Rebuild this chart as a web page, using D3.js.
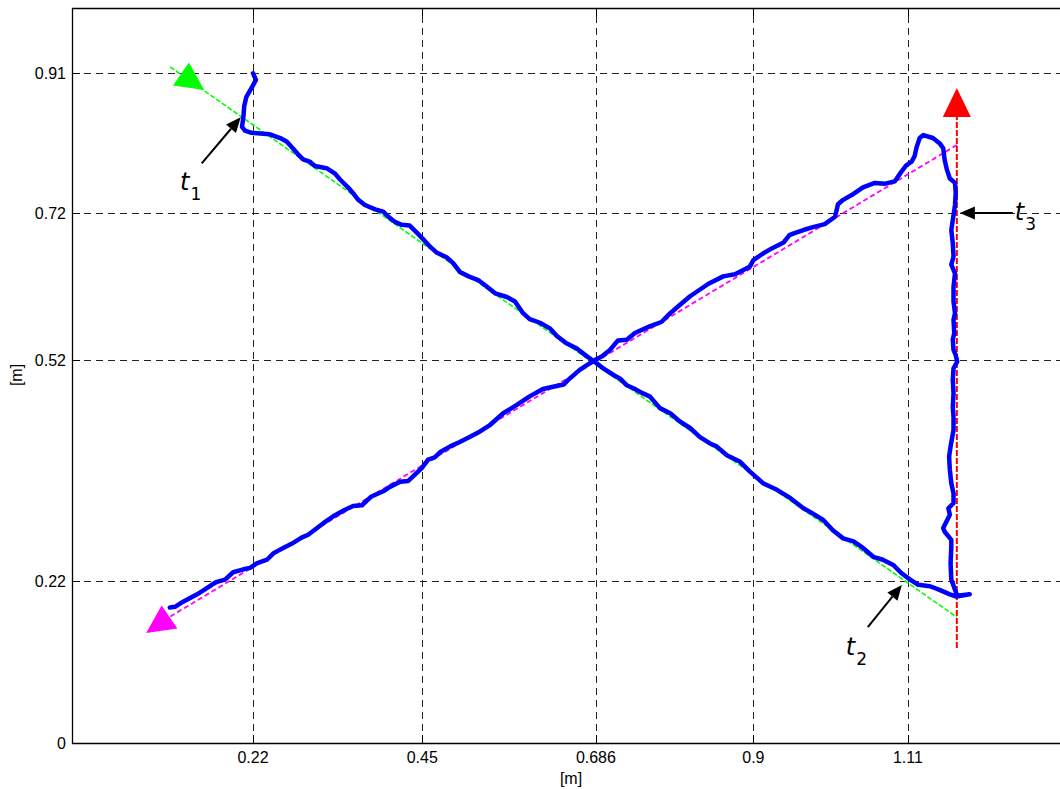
<!DOCTYPE html>
<html>
<head>
<meta charset="utf-8">
<script src="https://cdn.jsdelivr.net/npm/d3@7"></script>
<style>
  body { margin: 0; background: #fff; }
  svg { display: block; font-family: "Liberation Sans", Arial, sans-serif; }
</style>
</head>
<body>
<svg id="chart" width="1060" height="789"></svg>
<script>
// tick values
var xTicks = [0.22, 0.45, 0.686, 0.9, 1.11];
var xTickLabels = ["0.22", "0.45", "0.686", "0.9", "1.11"];
var yTicks = [0, 0.22, 0.52, 0.72, 0.91];
var yTickLabels = ["0", "0.22", "0.52", "0.72", "0.91"];

// reference path segments [x, y]
var greenRef = [[0.1075, 0.9185], [1.1765, 0.171]];
var redRef = [[1.1765, 0.129], [1.1765, 0.8505]];
var magentaRef = [[1.1765, 0.8125], [0.1065, 0.1712]];

// arrow heads: [base centre, tip]
var greenHead = [[0.1221, 0.909], [0.1537, 0.8872]];
var redHead = [[1.1765, 0.8505], [1.1765, 0.890]];
var magentaHead = [[0.1065, 0.1712], [0.0748, 0.1495]];

// measured robot trajectory [x, y]
var trajX = [0.220,0.224,0.218,0.211,0.208,0.207,0.205,0.209,0.218,0.230,0.243,0.257,0.266,0.275,0.282,0.288,0.297,0.304,0.320,0.331,0.338,0.350,0.356,0.363,0.372,0.386,0.397,0.404,0.413,0.422,0.433,0.447,0.461,0.470,0.483,0.492,0.501,0.513,0.526,0.538,0.549,0.565,0.576,0.587,0.596,0.610,0.624,0.633,0.646,0.660,0.673,0.687,
  0.696,0.710,0.719,0.728,0.737,0.750,0.759,0.773,0.787,0.800,0.814,0.827,0.841,0.850,0.864,0.882,0.895,0.913,0.932,0.950,0.968,0.977,0.995,1.008,1.022,1.036,1.049,1.063,1.076,1.090,1.101,1.113,1.124,1.140,1.153,1.167,1.176,1.194,1.177,
  1.169,1.168,1.169,1.169,1.160,1.158,1.167,1.165,1.172,1.172,1.169,1.167,1.166,1.168,1.172,1.172,1.171,1.172,1.171,1.172,1.177,1.175,1.172,1.171,1.173,1.172,1.174,1.172,1.172,1.174,1.169,1.172,1.171,1.169,1.172,1.174,1.175,1.174,1.167,1.163,1.160,1.158,1.153,1.144,1.131,1.126,1.122,1.119,1.115,1.108,
  1.101,1.092,1.079,1.065,1.049,1.036,1.022,1.015,1.011,0.997,0.981,0.968,0.954,0.949,0.941,0.925,0.913,0.900,0.895,0.875,0.859,0.839,0.814,0.800,0.787,0.775,0.759,0.739,0.728,0.716,0.705,0.694,0.682,
  0.664,0.648,0.642,0.614,0.596,0.578,0.560,0.542,0.528,0.515,0.501,0.488,0.474,0.467,0.458,0.449,0.431,0.420,0.406,0.397,0.381,0.368,0.356,0.345,0.329,0.316,0.295,0.286,0.273,0.261,0.248,0.239,0.225,0.216,0.207,0.193,0.182,0.171,0.164,0.152,0.144,0.125,0.114,0.107];
var trajY = [0.910,0.901,0.890,0.878,0.865,0.851,0.837,0.832,0.829,0.828,0.827,0.822,0.817,0.807,0.799,0.793,0.790,0.784,0.781,0.774,0.766,0.754,0.747,0.738,0.731,0.725,0.722,0.715,0.708,0.704,0.703,0.689,0.674,0.666,0.660,0.652,0.640,0.634,0.629,0.620,0.611,0.606,0.600,0.584,0.576,0.571,0.563,0.553,0.543,0.536,0.526,0.516,
  0.509,0.500,0.495,0.486,0.482,0.475,0.471,0.455,0.448,0.437,0.428,0.416,0.407,0.403,0.391,0.382,0.369,0.353,0.344,0.333,0.319,0.314,0.303,0.289,0.278,0.274,0.265,0.253,0.249,0.242,0.231,0.222,0.215,0.213,0.208,0.202,0.199,0.202,0.200,
  0.222,0.244,0.267,0.276,0.287,0.292,0.310,0.319,0.326,0.339,0.353,0.371,0.389,0.403,0.425,0.443,0.457,0.475,0.493,0.509,0.518,0.527,0.534,0.548,0.557,0.575,0.584,0.600,0.620,0.638,0.650,0.661,0.679,0.697,0.717,0.731,0.747,0.761,0.767,0.779,0.792,0.808,0.815,0.822,0.826,0.822,0.810,0.797,0.790,0.785,
  0.776,0.763,0.760,0.761,0.755,0.746,0.738,0.732,0.715,0.705,0.701,0.697,0.692,0.690,0.680,0.672,0.665,0.656,0.647,0.637,0.634,0.624,0.607,0.595,0.584,0.572,0.566,0.557,0.548,0.547,0.534,0.525,0.519,
  0.507,0.493,0.487,0.481,0.471,0.459,0.448,0.432,0.423,0.416,0.409,0.403,0.395,0.388,0.385,0.373,0.356,0.355,0.348,0.342,0.335,0.323,0.322,0.317,0.308,0.299,0.283,0.279,0.271,0.265,0.258,0.249,0.244,0.238,0.236,0.232,0.222,0.219,0.215,0.207,0.202,0.192,0.185,0.184];

// annotation arrows: [tail, tip], label position
var notes = [
  { name: "1", tail: [0.1503, 0.7876], tip: [0.2033, 0.8501], label: [0.1208, 0.7514] },
  { name: "2", tail: [1.0555, 0.1576], tip: [1.1018, 0.2147], label: [1.0256, 0.1196] },
  { name: "3", tail: [1.2526, 0.7201], tip: [1.1806, 0.7201], label: [1.2553, 0.7106] }
];

var W = 1060, H = 789;
var pLeft = 72, pTop = 8, pBottom = 743, pRight = 1070;

var x = d3.scaleLinear().domain([-0.026, 1.3303]).range([pLeft, pRight]);
var y = d3.scaleLinear().domain([0, 1]).range([pBottom, pBottom - 736]);

var svg = d3.select("#chart");

// grid
var grid = svg.append("g");
grid.selectAll(".vg").data(xTicks).enter().append("line")
  .attr("x1", d => Math.round(x(d)) + 0.5).attr("x2", d => Math.round(x(d)) + 0.5)
  .attr("y1", pBottom).attr("y2", pTop)
  .attr("stroke", "#222").attr("stroke-width", 1)
  .attr("stroke-dasharray", "7,5");
grid.selectAll(".hg").data(yTicks.filter(d => d > 0)).enter().append("line")
  .attr("x1", pLeft).attr("x2", W)
  .attr("y1", d => Math.round(y(d)) + 0.5).attr("y2", d => Math.round(y(d)) + 0.5)
  .attr("stroke", "#222").attr("stroke-width", 1)
  .attr("stroke-dasharray", "7,5");

var line = d3.line().x(d => x(d[0])).y(d => y(d[1]));

// reference lines
svg.append("path").attr("d", line(greenRef)).attr("fill", "none")
  .attr("stroke", "#00ff00").attr("stroke-width", 1.6).attr("stroke-dasharray", "5,2");
svg.append("path").attr("d", line(magentaRef)).attr("fill", "none")
  .attr("stroke", "#ff00ff").attr("stroke-width", 1.8).attr("stroke-dasharray", "5,3");
svg.append("path").attr("d", line(redRef)).attr("fill", "none")
  .attr("stroke", "#ff0000").attr("stroke-width", 2).attr("stroke-dasharray", "6,2");

function head(h, size, color) {
  var bx = x(h[0][0]), by = y(h[0][1]), tx = x(h[1][0]), ty = y(h[1][1]);
  var dx = tx - bx, dy = ty - by, len = Math.sqrt(dx * dx + dy * dy);
  var nx = -dy / len * size / 2, ny = dx / len * size / 2;
  svg.append("path")
    .attr("d", "M" + tx + "," + ty + "L" + (bx + nx) + "," + (by + ny) + "L" + (bx - nx) + "," + (by - ny) + "Z")
    .attr("fill", color);
}
head(greenHead, 28, "#00ff00");
head(redHead, 28, "#ff0000");
head(magentaHead, 28, "#ff00ff");

// trajectory
var traj = trajX.map((d, i) => [d, trajY[i]]);
svg.append("path").attr("d", line(traj)).attr("fill", "none")
  .attr("stroke", "#0000ff").attr("stroke-width", 4.5)
  .attr("stroke-linejoin", "round").attr("stroke-linecap", "round");

// annotations
notes.forEach(function(n) {
  var x1 = x(n.tail[0]), y1 = y(n.tail[1]), x2 = x(n.tip[0]), y2 = y(n.tip[1]);
  var dx = x2 - x1, dy = y2 - y1, len = Math.sqrt(dx * dx + dy * dy);
  var ux = dx / len, uy = dy / len;
  var hl = 15, hw = 6.5;
  var bx = x2 - ux * hl, by = y2 - uy * hl;
  svg.append("line").attr("x1", x1).attr("y1", y1).attr("x2", bx).attr("y2", by)
    .attr("stroke", "#000").attr("stroke-width", 2);
  svg.append("path")
    .attr("d", "M" + x2 + "," + y2 + "L" + (bx - uy * hw) + "," + (by + ux * hw) + "L" + (bx + uy * hw) + "," + (by - ux * hw) + "Z")
    .attr("fill", "#000");
  var t = svg.append("text").attr("x", x(n.label[0])).attr("y", y(n.label[1]))
    .style("font-family", "'DejaVu Sans', sans-serif").attr("fill", "#000");
  t.append("tspan").text("t").style("font-style", "italic").style("font-size", "24px");
  t.append("tspan").text(n.name).attr("dx", 1).attr("dy", 10).style("font-size", "17px");
});

// axes box
svg.append("path")
  .attr("d", "M" + (W + 5) + "," + (pTop + 0.5) + "H" + (pLeft + 0.5) + "V" + (pBottom + 0.5) + "H" + (W + 5))
  .attr("fill", "none").attr("stroke", "#000").attr("stroke-width", 1.3);

// ticks
svg.selectAll(".xt").data(xTicks).enter().append("path")
  .attr("d", d => "M" + (Math.round(x(d)) + 0.5) + "," + pBottom + "v-8M" + (Math.round(x(d)) + 0.5) + "," + pTop + "v8")
  .attr("stroke", "#000").attr("stroke-width", 1);
svg.selectAll(".yt").data(yTicks).enter().append("path")
  .attr("d", d => "M" + pLeft + "," + (Math.round(y(d)) + 0.5) + "h8")
  .attr("stroke", "#000").attr("stroke-width", 1);

svg.selectAll(".xl").data(xTicks).enter().append("text")
  .attr("x", d => x(d)).attr("y", 763)
  .attr("text-anchor", "middle").style("font-size", "16px").attr("fill", "#000")
  .text((d, i) => xTickLabels[i]);
svg.selectAll(".yl").data(yTicks).enter().append("text")
  .attr("x", 66).attr("y", d => y(d) + 5.5)
  .attr("text-anchor", "end").style("font-size", "16px").attr("fill", "#000")
  .text((d, i) => yTickLabels[i]);

svg.append("text").attr("x", 571).attr("y", 784).attr("text-anchor", "middle")
  .style("font-size", "16px").text("[m]");
svg.append("text").attr("transform", "translate(22,375) rotate(-90)").attr("text-anchor", "middle")
  .style("font-size", "16px").text("[m]");
</script>
</body>
</html>
